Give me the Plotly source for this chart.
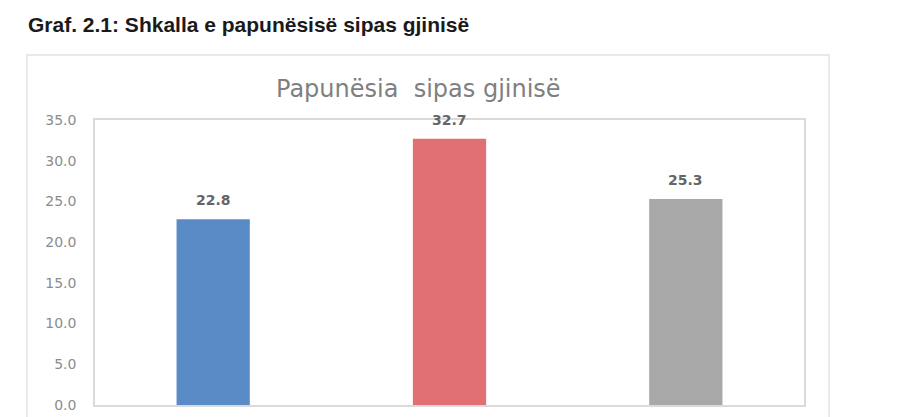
import plotly.graph_objects as go

categories = ["Meshkuj", "Femra", "Gjithsej"]
values = [22.8, 32.7, 25.3]
colors = ["#5B8BC6", "#E07074", "#A8A8A8"]
y_ticks = [0, 5, 10, 15, 20, 25, 30, 35]

# page offset (browser body margin)
OFF = 8
W, H = 900, 417
# desired plot box in window pixels: x 95..804, y 120..405
L = 95 - OFF
R = W - (804 - OFF)
T = 120 - OFF
B = H - (405 - OFF)
pw, ph = W - L - R, H - T - B

def px_x(x):
    return (x - OFF - L) / pw

def px_y(y):
    return (H - B - (y - OFF)) / ph

fig = go.Figure()
fig.add_trace(go.Bar(
    x=categories, y=values, marker=dict(color=colors, line=dict(width=0)),
    width=0.31, hoverinfo="skip",
))

for c, v in zip(categories, values):
    fig.add_annotation(x=c, y=v, text=f"<b>{v:.1f}</b>", showarrow=False,
                       yanchor="bottom", yshift=9,
                       font=dict(family="DejaVu Sans", size=14, color="#656565"))

fig.update_layout(
    width=W, height=H, margin=dict(l=L, r=R, t=T, b=B),
    paper_bgcolor="white", plot_bgcolor="white", showlegend=False,
    font=dict(family="DejaVu Sans"),
    xaxis=dict(showticklabels=False, showline=True, mirror=True,
               linecolor="#DADADA", linewidth=1.5, showgrid=False, zeroline=False,
               fixedrange=True),
    yaxis=dict(range=[0, 35], tickvals=y_ticks, tickformat=".1f",
               showline=True, mirror=True, linecolor="#DADADA", linewidth=1.5,
               showgrid=False, zeroline=False, ticks="", ticklen=0,
               ticklabelstandoff=14,
               tickfont=dict(family="DejaVu Sans", size=14, color="#8C8C8C"),
               fixedrange=True),
    shapes=[
        dict(type="rect", xref="paper", yref="paper",
             x0=px_x(27), x1=px_x(829), y0=px_y(440), y1=px_y(55),
             line=dict(color="#E3E3E3", width=1.5), layer="below"),
        dict(type="line", xref="paper", yref="paper",
             x0=px_x(896), x1=px_x(896), y0=px_y(440), y1=px_y(60),
             line=dict(color="#E8E8E8", width=1.5)),
    ],
    annotations=list(fig.layout.annotations) + [
        dict(text="<b>Graf. 2.1: Shkalla e papunësisë sipas gjinisë</b>",
             xref="paper", yref="paper", x=px_x(26), y=px_y(24),
             xanchor="left", yanchor="middle", showarrow=False,
             font=dict(family="Liberation Sans", size=21, color="#1A1A1A")),
        dict(text="Papunësia  sipas gjinisë",
             xref="paper", yref="paper", x=px_x(418), y=px_y(89),
             xanchor="center", yanchor="middle", showarrow=False,
             font=dict(family="DejaVu Sans", size=24, color="#7F7F7F")),
    ],
)

fig.write_html("out.html")
